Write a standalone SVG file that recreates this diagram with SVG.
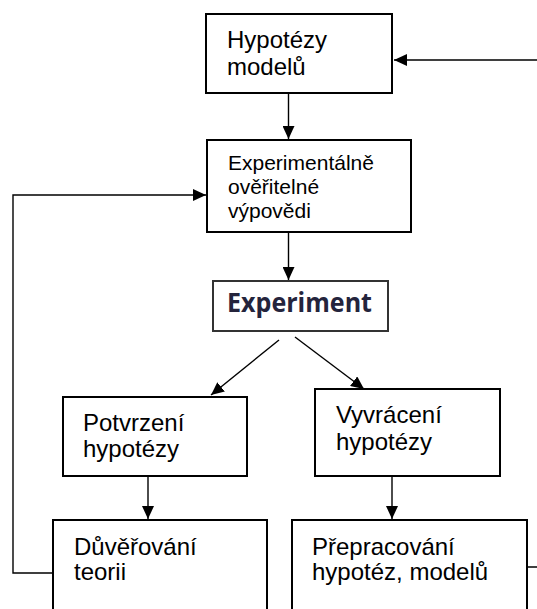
<svg xmlns="http://www.w3.org/2000/svg" width="537" height="609" viewBox="0 0 537 609">
<style>
.box{fill:#fff;stroke:#000;stroke-width:2}
.t{font-family:"Liberation Sans",Arial,sans-serif;font-size:24px;fill:#000}
.s{font-size:21px}
.b{font-family:"Open Sans","Noto Sans",sans-serif;font-weight:bold;font-size:26px;fill:#24243c}
.ln{fill:none;stroke:#000;stroke-width:1.4}
</style>
<defs>
<marker id="ah" markerUnits="userSpaceOnUse" markerWidth="14" markerHeight="12" refX="13" refY="6" orient="auto">
<path d="M0,0 L13,6 L0,12 Z" fill="#000"/>
</marker>
</defs>
<rect width="537" height="609" fill="#fff"/>
<g id="connectors">
<path class="ln" d="M288.5,93 V139" marker-end="url(#ah)"/>
<path class="ln" d="M288.5,232 V280" marker-end="url(#ah)"/>
<path class="ln" d="M279,340 L211,395" marker-end="url(#ah)"/>
<path class="ln" d="M295,337 L364,389" marker-end="url(#ah)"/>
<path class="ln" d="M148,476 V519" marker-end="url(#ah)"/>
<path class="ln" d="M392,476 V519" marker-end="url(#ah)"/>
<path class="ln" d="M53,573 H13 V195 H206" marker-end="url(#ah)"/>
<path class="ln" d="M527,567 H560 V60 H394" marker-end="url(#ah)"/>
</g>
<g id="hypotezy-modelu">
<rect class="box" x="206" y="14" width="186" height="79"/>
<text class="t" x="227" y="48">Hypotézy</text>
<text class="t" x="227" y="75">modelů</text>
</g>
<g id="experimentalne">
<rect class="box" x="207" y="140" width="204" height="92"/>
<text class="t s" x="228" y="170">Experimentálně</text>
<text class="t s" x="228" y="194">ověřitelné</text>
<text class="t s" x="228" y="218">výpovědi</text>
</g>
<g id="experiment">
<rect class="box" x="213" y="281" width="175" height="50" style="stroke:#333"/>
<text class="b" x="227" y="312" textLength="145" lengthAdjust="spacingAndGlyphs">Experiment</text>
</g>
<g id="potvrzeni">
<rect class="box" x="63" y="397" width="184" height="79"/>
<text class="t" x="83" y="431">Potvrzení</text>
<text class="t" x="83" y="457">hypotézy</text>
</g>
<g id="vyvraceni">
<rect class="box" x="315" y="389" width="185" height="87"/>
<text class="t" x="336" y="423">Vyvrácení</text>
<text class="t" x="336" y="450">hypotézy</text>
</g>
<g id="duverovani">
<rect class="box" x="53" y="520" width="214" height="110"/>
<text class="t" x="74" y="555">Důvěřování</text>
<text class="t" x="74" y="580">teorii</text>
</g>
<g id="prepracovani">
<rect class="box" x="292" y="520" width="235" height="110"/>
<text class="t" x="312" y="555">Přepracování</text>
<text class="t" x="312" y="580">hypotéz, modelů</text>
</g>
</svg>
